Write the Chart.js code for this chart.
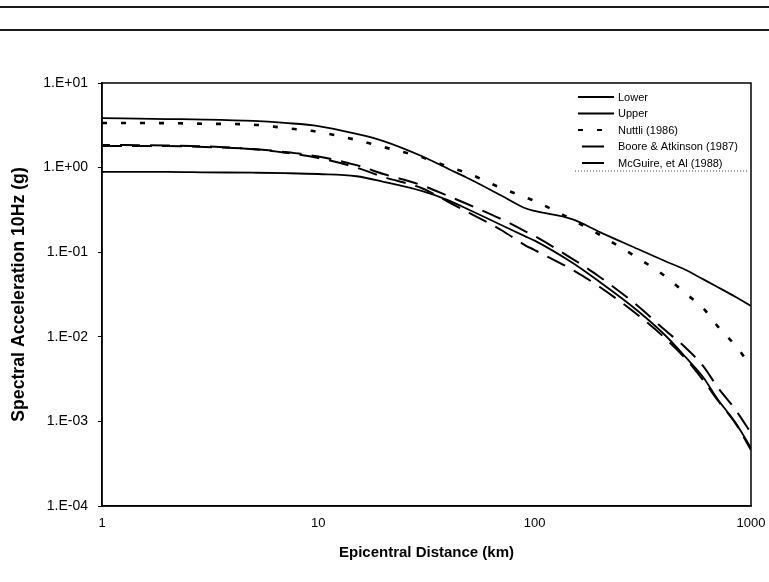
<!DOCTYPE html>
<html><head><meta charset="utf-8">
<script src="https://cdn.jsdelivr.net/npm/chart.js@4.4.1/dist/chart.umd.min.js"></script>
<style>
html,body{margin:0;padding:0;background:#fff;}
#wrap{position:relative;width:769px;height:582px;}
.rule{position:absolute;left:0;width:769px;height:2px;background:#1a1a1a;}
</style></head><body>
<div id="wrap">
<canvas id="c" width="769" height="582"></canvas>
<div class="rule" style="top:6px"></div>
<div class="rule" style="top:29px"></div>
</div>
<script>
// Epicentral distance (km)
const distances = [1,2,3,5,7,10,15,20,30,40,50,70,90,100,150,200,300,400,500,600,700,850,1000];
// Spectral acceleration 10 Hz (g)
const lower   = [0.89,0.89,0.88,0.87,0.86,0.84,0.79,0.68,0.53,0.41,0.315,0.21,0.155,0.137,0.0745,0.0444,0.0202,0.0105,0.0057,0.00335,0.00184,0.00096,0.000485];
const upper   = [3.85,3.75,3.7,3.56,3.37,3.1,2.5,2.06,1.37,0.963,0.733,0.468,0.333,0.307,0.244,0.173,0.109,0.0787,0.0616,0.048,0.0388,0.0295,0.0231];
const nuttli  = [3.37,3.35,3.3,3.22,2.94,2.64,2.12,1.75,1.33,1.02,0.84,0.574,0.449,0.403,0.24,0.16,0.0853,0.0523,0.0323,0.0219,0.0134,0.0078,0.0045];
const boore   = [1.8,1.8,1.75,1.66,1.53,1.35,1.07,0.84,0.62,0.46,0.361,0.247,0.178,0.155,0.083,0.051,0.0231,0.012,0.00738,0.00452,0.00255,0.00136,0.00073];
const mcguire = [1.85,1.83,1.78,1.65,1.5,1.3,1.0,0.774,0.574,0.392,0.29,0.183,0.1216,0.106,0.0616,0.0388,0.0181,0.00968,0.00547,0.00309,0.00179,0.00094,0.00046];
const seriesLabels = ["Lower","Upper","Nuttli (1986)","Boore & Atkinson (1987)","McGuire, et Al (1988)"];
const xTickValues = [1,10,100,1000];
const xTickLabels = ["1","10","100","1000"];
const yTickValues = [1e-4,1e-3,1e-2,1e-1,1,10];
const yTickLabels = ["1.E-04","1.E-03","1.E-02","1.E-01","1.E+00","1.E+01"];

const toPts = arr => distances.map((d,i)=>({x:d,y:arr[i]}));
const styles = [
  {borderWidth:1.8, borderDash:[]},
  {borderWidth:1.8, borderDash:[]},
  {borderWidth:2.6, borderDash:[5,14]},
  {borderWidth:2.0, borderDash:[20,10]},
  {borderWidth:2.0, borderDash:[20,10], borderDashOffset:12}
];
const seriesData = [lower, upper, nuttli, boore, mcguire];
const datasets = seriesData.map((arr,i)=>Object.assign({
  label: seriesLabels[i],
  data: toPts(arr),
  borderColor:'#000',
  backgroundColor:'#000',
  pointRadius:0,
  fill:false,
  cubicInterpolationMode:'monotone'
}, styles[i]));

const FONT = '"Liberation Sans", Arial, Helvetica, sans-serif';

const framePlugin = {
  id:'frame',
  afterDatasetsDraw(chart){
    const {ctx, chartArea:a} = chart;
    ctx.save();
    ctx.strokeStyle='#000'; ctx.lineWidth=1.5; ctx.setLineDash([]);
    ctx.strokeRect(a.left, a.top, a.right-a.left, a.bottom-a.top);
    ctx.restore();
  }
};
const legendPlugin = {
  id:'boxLegend',
  afterDraw(chart){
    const {ctx, chartArea:a} = chart;
    const x0 = a.right-173, textX = a.right-133, y0 = a.top+14, step = 16.5;
    ctx.save();
    ctx.font = '11px ' + FONT;
    ctx.textBaseline='middle'; ctx.fillStyle='#000'; ctx.strokeStyle='#000';
    chart.data.datasets.forEach((ds,i)=>{
      const y = y0 + i*step;
      ctx.lineWidth = Math.min(ds.borderWidth,2);
      const dash = ds.borderDash || [];
      ctx.beginPath();
      if (dash.length && dash[0] >= 10) {
        ctx.setLineDash([]);
        ctx.moveTo(x0+4,y); ctx.lineTo(x0+26,y);
      } else {
        ctx.setLineDash(dash);
        ctx.moveTo(x0,y); ctx.lineTo(x0+36,y);
      }
      ctx.stroke();
      ctx.fillText(ds.label, textX, y+0.5);
    });
    ctx.setLineDash([1,2]); ctx.lineWidth=1; ctx.strokeStyle='#444';
    ctx.beginPath(); ctx.moveTo(x0-3, a.top+88); ctx.lineTo(a.right-3, a.top+88); ctx.stroke();
    ctx.restore();
  }
};

new Chart(document.getElementById('c'), {
  type:'line',
  data:{datasets},
  options:{
    responsive:false,
    animation:false,
    devicePixelRatio:1,
    layout:{padding:{top:83,right:18,bottom:0,left:0}},
    plugins:{legend:{display:false}, tooltip:{enabled:false}},
    scales:{
      x:{
        type:'logarithmic', min:1, max:1000,
        afterBuildTicks: s => { s.ticks = xTickValues.map(v=>({value:v})); },
        afterFit: s => { s.height = 76; s.paddingLeft = 0; s.paddingRight = 0; },
        ticks:{autoSkip:false, maxRotation:0, padding:2, color:'#000',
          font:{family:FONT,size:13},
          callback:(v,i)=>xTickLabels[i]},
        grid:{display:false},
        border:{display:true,color:'#000',width:1.5},
        title:{display:true,text:'Epicentral Distance (km)',color:'#000',
          font:{family:FONT,size:15,weight:'bold'},padding:{top:0,bottom:20}}
      },
      y:{
        type:'logarithmic', min:1e-4, max:10,
        afterBuildTicks: s => { s.ticks = yTickValues.map(v=>({value:v})); },
        afterFit: s => { s.width = 102; s.paddingTop = 0; s.paddingBottom = 0; },
        ticks:{autoSkip:false, padding:10, color:'#000',
          font:{family:FONT,size:14},
          callback:(v,i)=>yTickLabels[i]},
        grid:{display:true, drawOnChartArea:false, drawTicks:true, tickLength:4, color:'#000', lineWidth:1},
        border:{display:true,color:'#000',width:1.5},
        title:{display:true,text:'Spectral Acceleration 10Hz (g)',color:'#000',
          font:{family:FONT,size:17.7,weight:'bold'},padding:{top:8,bottom:0}}
      }
    }
  },
  plugins:[framePlugin, legendPlugin]
});
</script>
</body></html>
